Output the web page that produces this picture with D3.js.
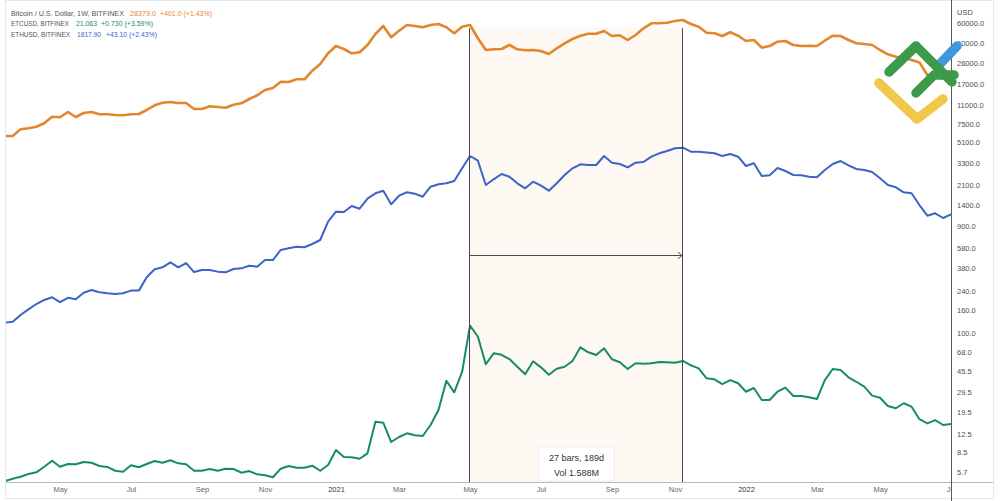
<!DOCTYPE html>
<html><head><meta charset="utf-8">
<script src="https://cdn.jsdelivr.net/npm/d3@7"></script>
<style>
body{margin:0;background:#fff;}
svg{display:block;font-family:"Liberation Sans",Arial,sans-serif;}
</style>
</head><body>
<svg id="chart" width="1000" height="501"></svg>
<script>
// ---------- data (weekly closes, bars dated Monday) ----------
const firstBar = "2020-03-16";
const btc = [5830,5830,6690,6830,7060,7575,8680,8580,9565,8630,
  9370,9565,9120,9120,8990,8935,9120,9180,9970,10980,
  11590,11760,11520,11520,10170,10170,10760,10600,10450,11120,
  11450,12510,13500,15060,15690,17870,17760,18780,18780,22420,
  25750,32100,37340,35100,32100,32790,38110,47820,56400,44670,
  51200,57560,56400,54900,57560,58780,54900,48520,55590,57560,
  43770,34380,34880,35100,38110,34880,34160,34380,33680,31650,
  35600,39470,43140,46170,48120,48120,50880,45890,46550,42250,
  46840,53790,59630,59630,60370,62540,63830,58780,55590,49130,
  48520,45890,49540,46170,41390,42250,36050,37340,40790,41390,
  38110,37340,37560,37340,41640,46170,45890,42250,39470,38900,
  38110,34380,31450,29940,29330,27960,26600,20500,21000,19300,
  20800];
const eth = [124,126,145,163,182,198,209,189,207,201,
  230,243,232,227,224,227,240,240,316,373,
  388,430,388,424,352,367,367,355,350,375,
  380,401,393,451,451,555,575,594,587,628,
  682,995,1223,1215,1375,1301,1599,1787,1886,1424,
  1701,1825,1773,1666,2048,2152,2197,2304,2994,3858,
  3503,2121,2386,2662,2518,2197,1982,2271,2091,1886,
  2197,2608,2994,3251,3204,3204,3858,3361,3271,3056,
  3361,3410,3803,4079,4278,4524,4580,4216,4216,4147,
  4079,3858,4021,3803,3139,3319,2554,2591,3012,2831,
  2608,2591,2518,2486,2891,3271,3480,3185,2951,2891,
  2773,2435,2121,2023,1825,1787,1403,1126,1183,1074,
  1159];
const etc = [4.72,4.95,5.16,5.46,5.65,6.34,7.18,6.34,6.71,6.67,
  6.99,6.89,6.44,6.31,5.84,5.72,6.53,6.27,6.71,7.14,
  6.89,7.24,6.80,6.67,5.84,5.84,6.05,5.84,6.09,6.05,
  5.61,5.80,5.42,5.31,5.10,6.09,6.44,6.21,6.21,6.48,
  5.84,6.57,8.95,7.75,7.70,7.48,8.36,16.06,15.73,10.56,
  11.71,12.64,12.13,11.95,15.00,20.44,37.41,29.44,45.04,116.8,
  92.7,52.5,65.8,63.9,58.5,49.9,42.7,55.8,49.3,42.3,
  47.9,49.9,56.2,74.5,67.2,63.6,73.0,58.2,54.7,47.6,
  53.6,53.1,53.6,55.0,54.7,54.2,56.2,51.4,48.3,39.3,
  38.5,34.9,37.9,35.5,29.8,32.2,25.1,25.1,29.8,32.4,
  27.3,27.3,26.6,25.6,37.9,47.6,46.6,40.1,36.6,33.1,
  27.5,26.3,22.2,21.2,23.5,21.9,16.9,15.5,16.6,15.0,
  15.3];

const yTickValues = [60000,40000,26000,17000,11000,7500,5100,3300,2100,1400,900,580,380,240,160,100,68,45.5,29.5,19.5,12.5,8.5,5.7];
const xTickDates = ["2020-05-04","2020-07-06","2020-09-07","2020-11-02","2021-01-04","2021-03-01","2021-05-03","2021-07-05","2021-09-06","2021-11-01","2022-01-03","2022-03-07","2022-05-02","2022-07-04"];
const xTickLabels = ["May","Jul","Sep","Nov","2021","Mar","May","Jul","Sep","Nov","2022","Mar","May","Jul"];

const legendNames = ["Bitcoin / U.S. Dollar, 1W, BITFINEX","ETCUSD, BITFINEX","ETHUSD, BITFINEX"];
const legendValues = ["28379.0","21.063","1817.90"];
const legendChanges = ["+401.0 (+1.43%)","+0.730 (+3.59%)","+43.10 (+2.43%)"];

const measureFrom = "2021-05-03", measureTo = "2021-11-08";
const measureTopPrice = 54000, measureArrowPrice = 500;
const measureText = ["27 bars, 189d", "Vol 1.588M"];

// ---------- setup ----------
const svg = d3.select("#chart");
const W = 1000, H = 501;
const plotLeft = 6, plotRight = 951, plotBottom = 482;
const parse = d3.utcParse("%Y-%m-%d");
const start = parse(firstBar);
const dates = btc.map((_, i) => d3.utcDay.offset(start, i * 7));

const x = d3.scaleUtc().domain([start, dates[dates.length - 1]]).range([4.8, 951]);
const y = d3.scaleLog().domain([5.7, 60000]).range([471.9, 23]);

const colors = {btc: "#e3862d", eth: "#3b63c8", etc: "#178a6e"};

svg.append("rect").attr("width", W).attr("height", H).attr("fill", "#fff");

const defs = svg.append("defs");
defs.append("clipPath").attr("id", "plotClip").append("rect")
  .attr("x", plotLeft).attr("y", 0).attr("width", plotRight - plotLeft).attr("height", plotBottom);
defs.append("clipPath").attr("id", "xClip").append("rect")
  .attr("x", plotLeft).attr("y", plotBottom).attr("width", plotRight - plotLeft).attr("height", H - plotBottom);

// frame
svg.append("rect").attr("x", 5.5).attr("y", 0.5).attr("width", 988).attr("height", 498)
  .attr("fill", "none").attr("stroke", "#e6e8ee");

// measure tool shading
const mx0 = x(parse(measureFrom)), mx1 = x(parse(measureTo));
const mTop = y(measureTopPrice), mArrow = y(measureArrowPrice);
svg.append("rect").attr("x", mx0).attr("y", mTop).attr("width", mx1 - mx0).attr("height", plotBottom - mTop)
  .attr("fill", "#fdf8f1");

// lines
const plot = svg.append("g").attr("clip-path", "url(#plotClip)");
const line = d3.line().x((d, i) => x(dates[i])).y(d => y(d)).curve(d3.curveLinear);
plot.append("path").datum(etc).attr("d", line).attr("fill", "none").attr("stroke", colors.etc).attr("stroke-width", 2).attr("stroke-linejoin", "round");
plot.append("path").datum(eth).attr("d", line).attr("fill", "none").attr("stroke", colors.eth).attr("stroke-width", 2).attr("stroke-linejoin", "round");
plot.append("path").datum(btc).attr("d", line).attr("fill", "none").attr("stroke", colors.btc).attr("stroke-width", 2.6).attr("stroke-linejoin", "round");

// measure lines + arrow
const mg = svg.append("g").attr("stroke", "#4a4a4a").attr("stroke-width", 1);
mg.append("line").attr("x1", Math.round(mx0) - 0.5).attr("x2", Math.round(mx0) - 0.5).attr("y1", mTop).attr("y2", plotBottom);
mg.append("line").attr("x1", Math.round(mx1) - 0.5).attr("x2", Math.round(mx1) - 0.5).attr("y1", mTop).attr("y2", plotBottom);
mg.append("line").attr("x1", mx0).attr("x2", mx1).attr("y1", Math.round(mArrow) + 0.5).attr("y2", Math.round(mArrow) + 0.5);
mg.append("path").attr("fill", "none")
  .attr("d", `M${mx1 - 5},${Math.round(mArrow) - 3} L${mx1 - 1},${Math.round(mArrow) + 0.5} L${mx1 - 5},${Math.round(mArrow) + 4}`);

// measure label box
const boxW = 75, boxH = 34;
const bx = (mx0 + mx1) / 2 - boxW / 2;
svg.append("rect").attr("x", bx).attr("y", plotBottom - boxH - 1).attr("width", boxW).attr("height", boxH)
  .attr("fill", "#ffffff").attr("stroke", "#eeeeee");
svg.selectAll(".mt").data(measureText).enter().append("text")
  .attr("x", (mx0 + mx1) / 2).attr("y", (d, i) => plotBottom - 21 + i * 15)
  .attr("text-anchor", "middle").attr("font-size", 9).attr("fill", "#333").text(d => d);

// axes lines
svg.append("line").attr("x1", plotLeft).attr("x2", 993).attr("y1", plotBottom + 0.5).attr("y2", plotBottom + 0.5)
  .attr("stroke", "#b8bbc2");
svg.append("line").attr("x1", plotRight + 0.5).attr("x2", plotRight + 0.5).attr("y1", 0).attr("y2", H)
  .attr("stroke", "#5a5a5a");

// right axis
const yAxis = d3.axisRight(y).tickValues(yTickValues).tickFormat(d3.format(".1f")).tickSize(0).tickPadding(6);
const ya = svg.append("g").attr("transform", `translate(${plotRight},0)`).call(yAxis);
ya.select(".domain").remove();
ya.selectAll("text").attr("font-size", 7.5).attr("fill", "#4d4d4d").attr("font-family", "Liberation Sans, Arial, sans-serif");
svg.append("text").attr("x", 957).attr("y", 15).attr("font-size", 7.5).attr("fill", "#4d4d4d").text("USD");

// bottom axis
const xa = svg.append("g").attr("clip-path", "url(#xClip)");
const xAxis = d3.axisBottom(x).tickValues(xTickDates.map(parse)).tickFormat((d, i) => xTickLabels[i]).tickSize(0).tickPadding(5);
const xg = xa.append("g").attr("transform", `translate(0,${plotBottom})`).call(xAxis);
xg.select(".domain").remove();
xg.selectAll("text").attr("font-size", 7.5).attr("font-family", "Liberation Sans, Arial, sans-serif")
  .attr("fill", (d, i) => /^\d/.test(xTickLabels[i]) ? "#333" : "#666");

// legend
const legendX = [[11, 130, 160], [11, 76, 101], [11, 77, 106]];
const legendW = [[113, 26, 52], [58, 21, 52], [59, 24, 51]];
const legendColors = [colors.btc, colors.etc, colors.eth];
legendNames.forEach((name, i) => {
  const yy = 15.8 + i * 10.6;
  const parts = [name, legendValues[i], legendChanges[i]];
  parts.forEach((t, j) => {
    svg.append("text").attr("x", legendX[i][j]).attr("y", yy).attr("font-size", 7.2)
      .attr("textLength", legendW[i][j]).attr("lengthAdjust", "spacingAndGlyphs")
      .attr("fill", j === 0 ? "#555" : legendColors[i]).text(t);
  });
});

// logo
const logo = svg.append("g").attr("fill", "none").attr("stroke-linecap", "round").attr("stroke-linejoin", "round").attr("stroke-width", 9.5);
logo.append("path").attr("d", "M879,83 L917,119 L943,99").attr("stroke", "#f0c84a");
logo.append("path").attr("d", "M937,67 L957,46").attr("stroke", "#3f97e0");
logo.append("path").attr("d", "M889,72 L916,46 L952,82").attr("stroke", "#3c9a49");
logo.append("path").attr("d", "M916,93 L934,75 L954,75").attr("stroke", "#3c9a49");
</script>
</body></html>
